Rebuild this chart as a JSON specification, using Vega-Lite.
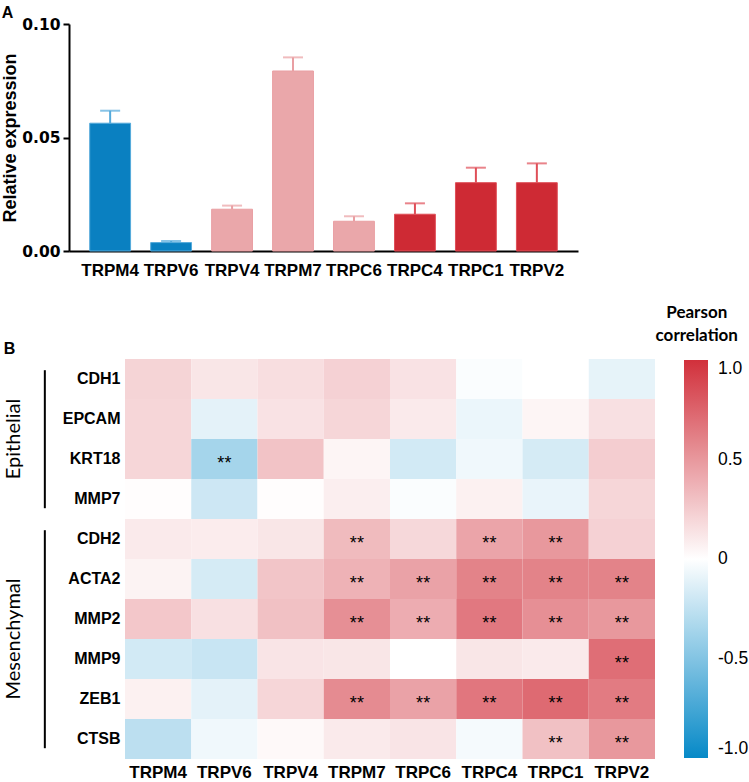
{
  "$schema": "https://vega.github.io/schema/vega-lite/v6.json",
  "background": "white",
  "padding": {"left": 1, "top": 5, "right": 0, "bottom": 0},
  "config": {"view": {"stroke": null}, "font": "Liberation Sans"},
  "datasets": {
    "expr": [
      {"channel": "TRPM4", "mean": 0.0563, "err_top": 0.0618, "set": "blue"},
      {"channel": "TRPV6", "mean": 0.0037, "err_top": 0.0044, "set": "blue"},
      {"channel": "TRPV4", "mean": 0.0184, "err_top": 0.0200, "set": "pink"},
      {"channel": "TRPM7", "mean": 0.0793, "err_top": 0.0853, "set": "pink"},
      {"channel": "TRPC6", "mean": 0.0131, "err_top": 0.0153, "set": "pink"},
      {"channel": "TRPC4", "mean": 0.0162, "err_top": 0.0210, "set": "red"},
      {"channel": "TRPC1", "mean": 0.0301, "err_top": 0.0367, "set": "red"},
      {"channel": "TRPV2", "mean": 0.0301, "err_top": 0.0386, "set": "red"}
    ],
    "corr": [
      {"marker": "CDH1", "channel": "TRPM4", "r": 0.21, "sig": ""},
      {"marker": "CDH1", "channel": "TRPV6", "r": 0.12, "sig": ""},
      {"marker": "CDH1", "channel": "TRPV4", "r": 0.16, "sig": ""},
      {"marker": "CDH1", "channel": "TRPM7", "r": 0.22, "sig": ""},
      {"marker": "CDH1", "channel": "TRPC6", "r": 0.14, "sig": ""},
      {"marker": "CDH1", "channel": "TRPC4", "r": -0.02, "sig": ""},
      {"marker": "CDH1", "channel": "TRPC1", "r": 0.0, "sig": ""},
      {"marker": "CDH1", "channel": "TRPV2", "r": -0.1, "sig": ""},
      {"marker": "EPCAM", "channel": "TRPM4", "r": 0.2, "sig": ""},
      {"marker": "EPCAM", "channel": "TRPV6", "r": -0.11, "sig": ""},
      {"marker": "EPCAM", "channel": "TRPV4", "r": 0.14, "sig": ""},
      {"marker": "EPCAM", "channel": "TRPM7", "r": 0.2, "sig": ""},
      {"marker": "EPCAM", "channel": "TRPC6", "r": 0.1, "sig": ""},
      {"marker": "EPCAM", "channel": "TRPC4", "r": -0.08, "sig": ""},
      {"marker": "EPCAM", "channel": "TRPC1", "r": 0.05, "sig": ""},
      {"marker": "EPCAM", "channel": "TRPV2", "r": 0.15, "sig": ""},
      {"marker": "KRT18", "channel": "TRPM4", "r": 0.2, "sig": ""},
      {"marker": "KRT18", "channel": "TRPV6", "r": -0.36, "sig": "**"},
      {"marker": "KRT18", "channel": "TRPV4", "r": 0.29, "sig": ""},
      {"marker": "KRT18", "channel": "TRPM7", "r": 0.05, "sig": ""},
      {"marker": "KRT18", "channel": "TRPC6", "r": -0.18, "sig": ""},
      {"marker": "KRT18", "channel": "TRPC4", "r": -0.06, "sig": ""},
      {"marker": "KRT18", "channel": "TRPC1", "r": -0.17, "sig": ""},
      {"marker": "KRT18", "channel": "TRPV2", "r": 0.24, "sig": ""},
      {"marker": "MMP7", "channel": "TRPM4", "r": 0.01, "sig": ""},
      {"marker": "MMP7", "channel": "TRPV6", "r": -0.2, "sig": ""},
      {"marker": "MMP7", "channel": "TRPV4", "r": 0.01, "sig": ""},
      {"marker": "MMP7", "channel": "TRPM7", "r": 0.08, "sig": ""},
      {"marker": "MMP7", "channel": "TRPC6", "r": -0.02, "sig": ""},
      {"marker": "MMP7", "channel": "TRPC4", "r": 0.07, "sig": ""},
      {"marker": "MMP7", "channel": "TRPC1", "r": -0.09, "sig": ""},
      {"marker": "MMP7", "channel": "TRPV2", "r": 0.2, "sig": ""},
      {"marker": "CDH2", "channel": "TRPM4", "r": 0.1, "sig": ""},
      {"marker": "CDH2", "channel": "TRPV6", "r": 0.09, "sig": ""},
      {"marker": "CDH2", "channel": "TRPV4", "r": 0.12, "sig": ""},
      {"marker": "CDH2", "channel": "TRPM7", "r": 0.33, "sig": "**"},
      {"marker": "CDH2", "channel": "TRPC6", "r": 0.19, "sig": ""},
      {"marker": "CDH2", "channel": "TRPC4", "r": 0.44, "sig": "**"},
      {"marker": "CDH2", "channel": "TRPC1", "r": 0.5, "sig": "**"},
      {"marker": "CDH2", "channel": "TRPV2", "r": 0.22, "sig": ""},
      {"marker": "ACTA2", "channel": "TRPM4", "r": 0.06, "sig": ""},
      {"marker": "ACTA2", "channel": "TRPV6", "r": -0.17, "sig": ""},
      {"marker": "ACTA2", "channel": "TRPV4", "r": 0.28, "sig": ""},
      {"marker": "ACTA2", "channel": "TRPM7", "r": 0.37, "sig": "**"},
      {"marker": "ACTA2", "channel": "TRPC6", "r": 0.45, "sig": "**"},
      {"marker": "ACTA2", "channel": "TRPC4", "r": 0.6, "sig": "**"},
      {"marker": "ACTA2", "channel": "TRPC1", "r": 0.6, "sig": "**"},
      {"marker": "ACTA2", "channel": "TRPV2", "r": 0.6, "sig": "**"},
      {"marker": "MMP2", "channel": "TRPM4", "r": 0.27, "sig": ""},
      {"marker": "MMP2", "channel": "TRPV6", "r": 0.15, "sig": ""},
      {"marker": "MMP2", "channel": "TRPV4", "r": 0.3, "sig": ""},
      {"marker": "MMP2", "channel": "TRPM7", "r": 0.54, "sig": "**"},
      {"marker": "MMP2", "channel": "TRPC6", "r": 0.4, "sig": "**"},
      {"marker": "MMP2", "channel": "TRPC4", "r": 0.65, "sig": "**"},
      {"marker": "MMP2", "channel": "TRPC1", "r": 0.54, "sig": "**"},
      {"marker": "MMP2", "channel": "TRPV2", "r": 0.5, "sig": "**"},
      {"marker": "MMP9", "channel": "TRPM4", "r": -0.18, "sig": ""},
      {"marker": "MMP9", "channel": "TRPV6", "r": -0.22, "sig": ""},
      {"marker": "MMP9", "channel": "TRPV4", "r": 0.13, "sig": ""},
      {"marker": "MMP9", "channel": "TRPM7", "r": 0.12, "sig": ""},
      {"marker": "MMP9", "channel": "TRPC6", "r": 0.0, "sig": ""},
      {"marker": "MMP9", "channel": "TRPC4", "r": 0.12, "sig": ""},
      {"marker": "MMP9", "channel": "TRPC1", "r": 0.1, "sig": ""},
      {"marker": "MMP9", "channel": "TRPV2", "r": 0.7, "sig": "**"},
      {"marker": "ZEB1", "channel": "TRPM4", "r": 0.07, "sig": ""},
      {"marker": "ZEB1", "channel": "TRPV6", "r": -0.11, "sig": ""},
      {"marker": "ZEB1", "channel": "TRPV4", "r": 0.2, "sig": ""},
      {"marker": "ZEB1", "channel": "TRPM7", "r": 0.56, "sig": "**"},
      {"marker": "ZEB1", "channel": "TRPC6", "r": 0.45, "sig": "**"},
      {"marker": "ZEB1", "channel": "TRPC4", "r": 0.66, "sig": "**"},
      {"marker": "ZEB1", "channel": "TRPC1", "r": 0.72, "sig": "**"},
      {"marker": "ZEB1", "channel": "TRPV2", "r": 0.64, "sig": "**"},
      {"marker": "CTSB", "channel": "TRPM4", "r": -0.27, "sig": ""},
      {"marker": "CTSB", "channel": "TRPV6", "r": -0.06, "sig": ""},
      {"marker": "CTSB", "channel": "TRPV4", "r": 0.03, "sig": ""},
      {"marker": "CTSB", "channel": "TRPM7", "r": 0.1, "sig": ""},
      {"marker": "CTSB", "channel": "TRPC6", "r": 0.13, "sig": ""},
      {"marker": "CTSB", "channel": "TRPC4", "r": -0.04, "sig": ""},
      {"marker": "CTSB", "channel": "TRPC1", "r": 0.3, "sig": "**"},
      {"marker": "CTSB", "channel": "TRPV2", "r": 0.5, "sig": "**"}
    ],
    "groups": [
      {"group": "Epithelial", "first": "CDH1", "last": "MMP7", "mid": "EPCAM"},
      {"group": "Mesenchymal", "first": "CDH2", "last": "CTSB", "mid": "MMP2"}
    ]
  },
  "concat": [
    {
      "width": 509,
      "height": 227,
      "title": {"text": "A", "anchor": "start", "frame": "bounds", "font": "Liberation Sans", "fontSize": 16, "fontWeight": "bold", "color": "black", "offset": -4},
      "data": {"name": "expr"},
      "layer": [
        {
          "mark": {"type": "bar", "strokeWidth": 1},
          "encoding": {
            "x": {"field": "channel", "type": "nominal", "sort": null,
                  "scale": {"paddingInner": 0.33, "paddingOuter": 0.34},
                  "axis": {"title": null, "labelAngle": 0, "ticks": false, "labelFont": "Liberation Sans", "labelFontSize": 17, "labelFontWeight": "bold", "labelColor": "black", "labelPadding": 11, "domainColor": "black", "domainWidth": 2}},
            "y": {"field": "mean", "type": "quantitative", "scale": {"domain": [0, 0.1]},
                  "axis": {"title": "Relative expression", "values": [0, 0.05, 0.1], "format": ".2f", "grid": false,
                           "labelFont": "DejaVu Sans", "labelFontSize": 15.5, "labelFontWeight": "bold", "labelColor": "black", "labelPadding": 3,
                           "domainColor": "black", "domainWidth": 2, "tickColor": "black", "tickWidth": 2, "tickSize": 6,
                           "titleFont": "Liberation Sans", "titleFontSize": 18, "titleFontWeight": "bold", "titleColor": "black", "titlePadding": 2}},
            "color": {"field": "set", "type": "nominal", "scale": {"domain": ["blue", "pink", "red"], "range": ["#0a80c1", "#eaa7aa", "#ce2a34"]}, "legend": null},
            "stroke": {"field": "set", "type": "nominal", "scale": {"domain": ["blue", "pink", "red"], "range": ["#55aadb", "#e99fa3", "#df4f58"]}, "legend": null}
          }
        },
        {
          "mark": {"type": "rule", "strokeWidth": 2},
          "encoding": {
            "x": {"field": "channel", "type": "nominal", "sort": null},
            "y": {"field": "mean", "type": "quantitative"},
            "y2": {"field": "err_top"},
            "stroke": {"field": "set", "type": "nominal", "legend": null}
          }
        },
        {
          "mark": {"type": "tick", "thickness": 2, "size": 20},
          "encoding": {
            "x": {"field": "channel", "type": "nominal", "sort": null},
            "y": {"field": "err_top", "type": "quantitative"},
            "fill": {"field": "set", "type": "nominal", "scale": {"domain": ["blue", "pink", "red"], "range": ["#55aadb", "#e99fa3", "#df4f58"]}, "legend": null}
          }
        }
      ]
    },
    {
      "width": 586,
      "height": 400,
      "title": {"text": "B", "anchor": "start", "frame": "bounds", "font": "Liberation Sans", "fontSize": 16, "fontWeight": "bold", "color": "black", "offset": -52},
      "layer": [
        {
          "data": {"name": "corr"},
          "mark": "rect",
          "encoding": {
            "x": {"field": "channel", "type": "nominal",
                  "scale": {"type": "band", "domain": ["TRPM4", "TRPV6", "TRPV4", "TRPM7", "TRPC6", "TRPC4", "TRPC1", "TRPV2"], "paddingInner": 0, "paddingOuter": 0.4226, "align": 1},
                  "axis": {"title": null, "labelAngle": 0, "ticks": false, "domain": false, "labelFont": "Liberation Sans", "labelFontSize": 17, "labelFontWeight": "bold", "labelColor": "black", "labelPadding": 5}},
            "y": {"field": "marker", "type": "nominal",
                  "scale": {"type": "band", "domain": ["CDH1", "EPCAM", "KRT18", "MMP7", "CDH2", "ACTA2", "MMP2", "MMP9", "ZEB1", "CTSB"], "paddingInner": 0, "paddingOuter": 0},
                  "axis": {"title": null, "ticks": false, "domain": false, "offset": -56, "labelFont": "Liberation Sans", "labelFontSize": 16, "labelFontWeight": "bold", "labelColor": "black", "labelPadding": 5}},
            "color": {"field": "r", "type": "quantitative",
                      "scale": {"domain": [-1, 0, 1], "range": ["#0689c7", "#ffffff", "#d1303b"], "interpolate": "rgb"},
                      "legend": {"type": "gradient", "orient": "none", "legendX": 561, "legendY": -54, "direction": "vertical",
                                 "gradientLength": 398, "gradientThickness": 24,
                                 "title": ["\u200b\u2002\u2002\u2002Pearson", "\u200b\u2002\u2002\u2002correlation"], "titleFont": "Lato", "titleFontSize": 17, "titleFontWeight": "bold", "titleColor": "black",
                                 "titleAlign": "center", "titleAnchor": "start", "titleLineHeight": 23, "titlePadding": 15,
                                 "values": [-1, -0.5, 0, 0.5, 1],
                                 "labelExpr": "datum.value == 0 ? '0' : (datum.value < 0 ? '-' : '') + format(abs(datum.value), '.1f')",
                                 "labelFont": "Liberation Sans", "labelFontSize": 17.5, "labelColor": "black", "labelOffset": 10, "labelBaseline": "middle", "labelOverlap": false}}
          }
        },
        {
          "data": {"name": "corr"},
          "mark": {"type": "text", "fontSize": 18, "dy": 5, "color": "black"},
          "encoding": {
            "x": {"field": "channel", "type": "nominal", "scale": {"type": "band", "domain": ["TRPM4", "TRPV6", "TRPV4", "TRPM7", "TRPC6", "TRPC4", "TRPC1", "TRPV2"], "paddingInner": 0, "paddingOuter": 0.4226, "align": 1}, "axis": null},
            "y": {"field": "marker", "type": "nominal", "scale": {"type": "band", "domain": ["CDH1", "EPCAM", "KRT18", "MMP7", "CDH2", "ACTA2", "MMP2", "MMP9", "ZEB1", "CTSB"], "paddingInner": 0, "paddingOuter": 0}},
            "text": {"field": "sig"}
          }
        },
        {
          "data": {"name": "groups"},
          "mark": {"type": "rule", "strokeWidth": 2, "color": "black"},
          "encoding": {
            "x": {"datum": -1.21, "type": "quantitative", "scale": {"domain": [-0.8453, 8]}, "axis": null},
            "y": {"field": "first", "type": "nominal", "bandPosition": 0.28, "scale": {"type": "band", "domain": ["CDH1", "EPCAM", "KRT18", "MMP7", "CDH2", "ACTA2", "MMP2", "MMP9", "ZEB1", "CTSB"], "paddingInner": 0, "paddingOuter": 0}},
            "y2": {"field": "last", "bandPosition": 0.73}
          }
        },
        {
          "data": {"name": "groups"},
          "mark": {"type": "text", "angle": 270, "font": "Lato", "fontSize": 20, "align": "center", "baseline": "middle", "color": "black"},
          "encoding": {
            "x": {"datum": -1.68, "type": "quantitative", "scale": {"domain": [-0.8453, 8]}, "axis": null},
            "y": {"field": "mid", "type": "nominal", "bandPosition": 1, "scale": {"type": "band", "domain": ["CDH1", "EPCAM", "KRT18", "MMP7", "CDH2", "ACTA2", "MMP2", "MMP9", "ZEB1", "CTSB"], "paddingInner": 0, "paddingOuter": 0}},
            "text": {"field": "group"}
          }
        }
      ],
      "resolve": {"scale": {"x": "independent"}, "axis": {"x": "independent"}}
    }
  ],
  "columns": 1,
  "spacing": 27,
  "resolve": {"scale": {"color": "independent", "stroke": "independent", "fill": "independent", "x": "independent", "y": "independent"}, "legend": {"color": "independent"}}
}
